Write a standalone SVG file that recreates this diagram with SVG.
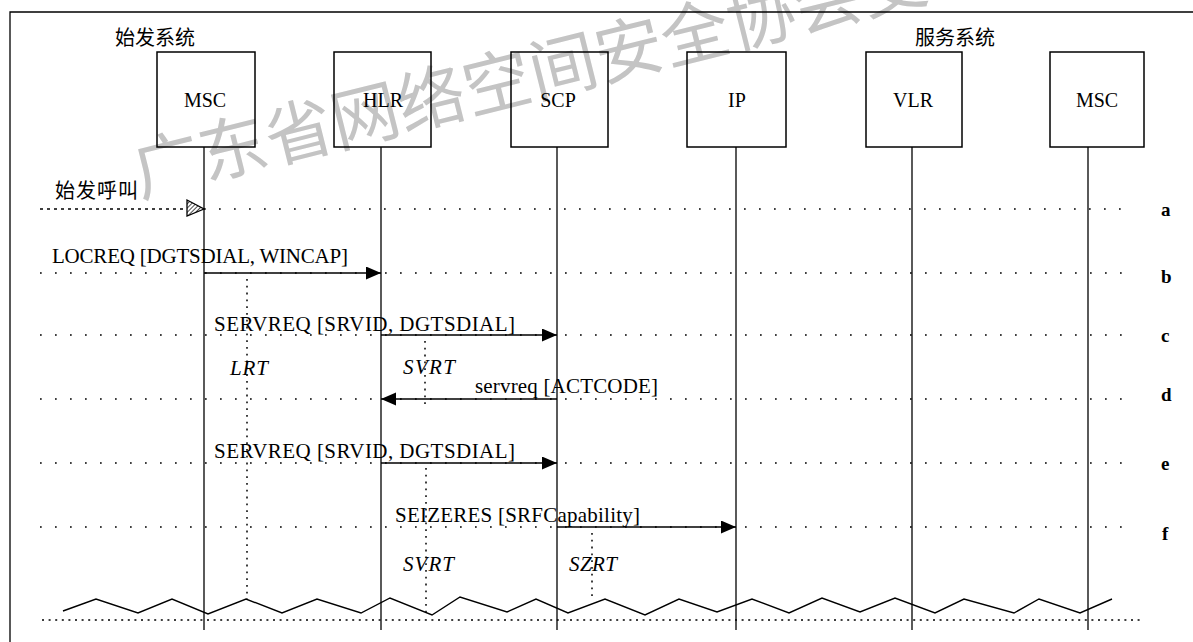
<svg xmlns="http://www.w3.org/2000/svg" width="1193" height="642" viewBox="0 0 1193 642">
<style>
.box{fill:none;stroke:#000;stroke-width:1.5}
.life{stroke:#000;stroke-width:1.3;fill:none}
.row{stroke:#000;stroke-width:1.7;stroke-dasharray:1.7 13.3;fill:none}
.tmr{stroke:#000;stroke-width:1.5;stroke-dasharray:1.8 5;fill:none}
.msg{stroke:#000;stroke-width:1.5;fill:none}
.lbl{font-family:"Liberation Serif",serif;font-size:20px;fill:#000}
.rl{font-family:"Liberation Serif",serif;font-size:19px;font-weight:bold;fill:#000}
.mt{font-family:"Liberation Serif",serif;font-size:21px;fill:#000}
.it{font-family:"Liberation Serif",serif;font-size:21px;font-style:italic;fill:#000}
.cjk{font-family:"Noto Sans CJK SC",sans-serif;font-size:20px;fill:#000}
.wm{font-family:"Noto Sans CJK SC",sans-serif;font-size:68px;fill:#c4c4c4}
</style>
<defs>
<marker id="ah" markerUnits="userSpaceOnUse" markerWidth="16" markerHeight="14" refX="15" refY="6.5" orient="auto">
<path d="M0,0 L15,6.5 L0,13 z" fill="#000"/>
</marker>
<pattern id="hatch" patternUnits="userSpaceOnUse" width="3" height="3" patternTransform="rotate(45)">
<line x1="0" y1="0" x2="0" y2="3" stroke="#000" stroke-width="1.4"/>
</pattern>
</defs>
<rect x="0" y="0" width="1193" height="642" fill="#fff"/>
<text class="wm" x="140" y="197" transform="rotate(-14 140 197)">广东省网络空间安全协会受</text>
<path d="M10,642 V12 H1193" fill="none" stroke="#000" stroke-width="1.3"/>
<text class="cjk" x="115" y="45">始发系统</text>
<text class="cjk" x="915" y="45">服务系统</text>
<g id="rows">
<path class="row" d="M204,209 H1132"/>
<path d="M40,209 H187" fill="none" stroke="#000" stroke-width="1.6" stroke-dasharray="3 4"/>
<path class="row" d="M40,273 H1132"/>
<path class="row" d="M40,335 H1132"/>
<path class="row" d="M40,399 H1132"/>
<path class="row" d="M40,463 H1132"/>
<path class="row" d="M40,527 H1132"/>
<path d="M42,620 H1141" fill="none" stroke="#000" stroke-width="1.6" stroke-dasharray="2 4.6"/>
</g>
<g id="node-msc-origin">
<rect class="box" x="157" y="52" width="98" height="95"/>
<text class="lbl" x="205" y="107" text-anchor="middle">MSC</text>
<path class="life" d="M204,147 V630"/>
</g>
<g id="node-hlr">
<rect class="box" x="334" y="52" width="97" height="95"/>
<text class="lbl" x="383" y="107" text-anchor="middle">HLR</text>
<path class="life" d="M381,147 V630"/>
</g>
<g id="node-scp">
<rect class="box" x="511" y="52" width="97" height="95"/>
<text class="lbl" x="558" y="107" text-anchor="middle">SCP</text>
<path class="life" d="M557,147 V630"/>
</g>
<g id="node-ip">
<rect class="box" x="687" y="52" width="99" height="95"/>
<text class="lbl" x="737" y="107" text-anchor="middle">IP</text>
<path class="life" d="M736,147 V630"/>
</g>
<g id="node-vlr">
<rect class="box" x="866" y="52" width="96" height="95"/>
<text class="lbl" x="913" y="107" text-anchor="middle">VLR</text>
<path class="life" d="M912,147 V630"/>
</g>
<g id="node-msc-serving">
<rect class="box" x="1050" y="52" width="94" height="95"/>
<text class="lbl" x="1097" y="107" text-anchor="middle">MSC</text>
<path class="life" d="M1088,147 V630"/>
</g>
<g id="connectors">
<text class="cjk" x="55" y="198" letter-spacing="1">始发呼叫</text>
<polygon points="187,200 204,209 187,216" fill="url(#hatch)" stroke="#000" stroke-width="1.3"/>
<path class="msg" d="M204,273 H381" marker-end="url(#ah)"/>
<text class="mt" x="52" y="263" textLength="296" lengthAdjust="spacing">LOCREQ [DGTSDIAL, WINCAP]</text>
<path class="msg" d="M381,335 H557" marker-end="url(#ah)"/>
<text class="mt" x="214" y="331" textLength="301" lengthAdjust="spacing">SERVREQ [SRVID, DGTSDIAL]</text>
<path class="msg" d="M557,399 H381" marker-end="url(#ah)"/>
<text class="mt" x="475" y="393" textLength="183" lengthAdjust="spacing">servreq [ACTCODE]</text>
<path class="msg" d="M381,463 H557" marker-end="url(#ah)"/>
<text class="mt" x="214" y="458" textLength="301" lengthAdjust="spacing">SERVREQ [SRVID, DGTSDIAL]</text>
<path class="msg" d="M557,527 H736" marker-end="url(#ah)"/>
<text class="mt" x="395" y="522" textLength="245" lengthAdjust="spacing">SEIZERES [SRFCapability]</text>
</g>
<g id="timers">
<path class="tmr" d="M247,279 V600"/>
<text class="it" x="230" y="375" textLength="38" lengthAdjust="spacing">LRT</text>
<path class="tmr" d="M425,341 V404"/>
<text class="it" x="403" y="374" textLength="52" lengthAdjust="spacing">SVRT</text>
<path class="tmr" d="M426,468 V615"/>
<text class="it" x="403" y="571" textLength="51" lengthAdjust="spacing">SVRT</text>
<path class="tmr" d="M592,533 V600"/>
<text class="it" x="569" y="571" textLength="48" lengthAdjust="spacing">SZRT</text>
</g>
<polyline points="63,611 96,599 138,613 172,599 208,614 246,599 282,613 317,599 361,613 390,598 432,615 460,597 507,612 536,599 568,613 605,599 645,615 679,599 717,612 752,599 789,613 822,598 860,612 895,598 935,613 964,599 1014,613 1039,599 1080,613 1112,599" fill="none" stroke="#000" stroke-width="1.4"/>
<g id="row-labels">
<text class="rl" x="1161" y="216">a</text>
<text class="rl" x="1161" y="283">b</text>
<text class="rl" x="1161" y="342">c</text>
<text class="rl" x="1161" y="401">d</text>
<text class="rl" x="1161" y="470">e</text>
<text class="rl" x="1162" y="540">f</text>
</g>
</svg>
